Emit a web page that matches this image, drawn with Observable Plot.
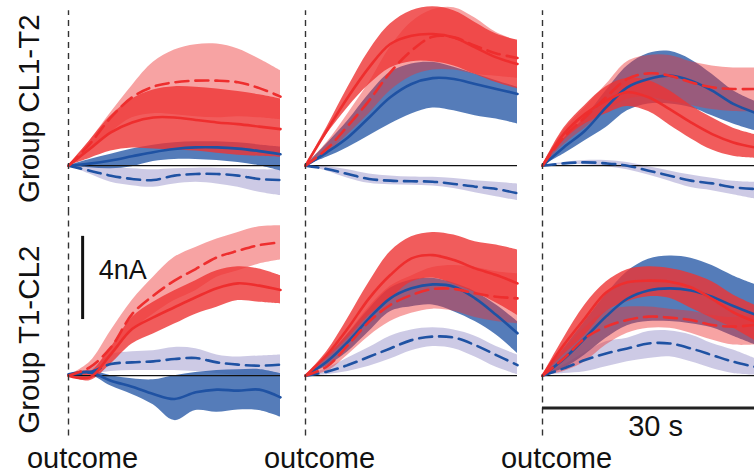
<!DOCTYPE html>
<html><head><meta charset="utf-8">
<script src="https://cdn.jsdelivr.net/npm/d3@7"></script>
<script src="https://cdn.jsdelivr.net/npm/@observablehq/plot@0.6"></script>
<style>html,body{margin:0;padding:0;background:#fff;overflow:hidden}#chart{width:754px;height:474px}</style>
</head><body><div id="chart"></div>
<script>
// time after outcome (s)
const time = [0, 3, 6, 9, 12, 15, 18, 21, 24, 27, 30];
const rows = ["Group CL1-T2", "Group T1-CL2"];
const cols = [1, 2, 3];
const seriesOrder = ["dashBlue", "solidBlue", "dashRed", "solidRed"];

// ---- Row 1 (Group CL1-T2), column 1 ----
const r1c1_dashRed_mid = [0, 1.04, 2.32, 3.29, 3.80, 4.01, 4.09, 4.09, 4.01, 3.73, 3.32];
const r1c1_dashRed_hi  = [0, 1.20, 2.56, 3.85, 4.97, 5.56, 5.82, 5.85, 5.61, 5.13, 4.57];
const r1c1_dashRed_lo  = [0, 0.70, 1.60, 2.30, 2.50, 2.45, 2.35, 2.30, 2.35, 2.30, 2.20];
const r1c1_solidRed_mid = [0, 0.80, 1.60, 2.08, 2.32, 2.32, 2.20, 2.08, 2.00, 1.88, 1.76];
const r1c1_solidRed_hi  = [0, 1.20, 2.40, 3.21, 3.64, 3.80, 3.77, 3.69, 3.57, 3.41, 3.21];
const r1c1_solidRed_lo  = [0, 0.35, 0.70, 0.85, 0.80, 0.75, 0.70, 0.60, 0.50, 0.45, 0.40];
const r1c1_solidBlue_mid = [0, 0.10, 0.25, 0.45, 0.65, 0.80, 0.88, 0.88, 0.82, 0.70, 0.55];
const r1c1_solidBlue_hi  = [0, 0.30, 0.55, 0.80, 0.98, 1.10, 1.15, 1.15, 1.10, 1.00, 0.90];
const r1c1_solidBlue_lo  = [0, -0.10, -0.15, -0.05, 0.20, 0.30, 0.30, 0.25, 0.15, 0.00, -0.25];
const r1c1_dashBlue_mid = [0, -0.24, -0.48, -0.64, -0.69, -0.48, -0.40, -0.40, -0.48, -0.64, -0.69];
const r1c1_dashBlue_hi  = [0, -0.05, -0.10, -0.15, -0.20, -0.15, -0.12, -0.12, -0.15, -0.20, -0.20];
const r1c1_dashBlue_lo  = [0, -0.40, -0.80, -0.96, -1.04, -0.88, -0.80, -0.88, -1.04, -1.28, -1.44];

// ---- Row 1, column 2 ----
const r1c2_dashRed_mid = [0, 0.80, 1.92, 3.13, 4.49, 5.53, 6.20, 6.17, 5.77, 5.40, 5.18];
const r1c2_dashRed_hi  = [0, 1.10, 2.50, 4.00, 5.70, 6.90, 7.50, 7.60, 7.10, 6.40, 6.00];
const r1c2_dashRed_lo  = [0, 0.60, 1.50, 2.50, 3.60, 4.30, 4.60, 4.60, 4.40, 4.30, 4.20];
const r1c2_solidRed_mid = [0, 1.68, 3.29, 4.73, 5.85, 6.25, 6.33, 6.17, 5.69, 5.21, 4.89];
const r1c2_solidRed_hi  = [0, 1.84, 3.77, 5.53, 6.81, 7.45, 7.64, 7.45, 6.89, 6.33, 6.04];
const r1c2_solidRed_lo  = [0, 1.50, 2.80, 3.90, 4.70, 5.00, 5.00, 4.80, 4.40, 4.00, 3.70];
const r1c2_solidBlue_mid = [0, 0.64, 1.36, 2.32, 3.29, 3.93, 4.21, 4.17, 3.93, 3.69, 3.45];
const r1c2_solidBlue_hi  = [0, 1.04, 2.16, 3.45, 4.49, 4.89, 4.97, 4.73, 4.41, 4.09, 3.77];
const r1c2_solidBlue_lo  = [0, 0.40, 0.88, 1.44, 2.00, 2.48, 2.77, 2.64, 2.40, 2.24, 2.00];
const r1c2_dashBlue_mid = [0, -0.16, -0.40, -0.64, -0.72, -0.75, -0.77, -0.88, -1.01, -1.12, -1.33];
const r1c2_dashBlue_hi  = [0, -0.05, -0.20, -0.40, -0.50, -0.55, -0.56, -0.62, -0.72, -0.80, -0.88];
const r1c2_dashBlue_lo  = [0, -0.25, -0.60, -0.85, -0.92, -0.94, -0.98, -1.10, -1.30, -1.50, -1.68];

// ---- Row 1, column 3 ----
const r1c3_dashRed_mid = [0, 1.36, 2.32, 3.29, 4.17, 4.44, 4.33, 4.01, 3.77, 3.69, 3.69];
const r1c3_dashRed_hi  = [0, 1.70, 2.80, 3.90, 5.00, 5.30, 5.30, 5.00, 4.80, 4.70, 4.70];
const r1c3_dashRed_lo  = [0, 1.00, 1.80, 2.60, 3.20, 3.30, 3.10, 2.90, 2.70, 2.60, 2.60];
const r1c3_solidRed_mid = [0, 1.52, 2.48, 3.13, 3.53, 3.29, 2.72, 2.08, 1.52, 1.12, 0.88];
const r1c3_solidRed_hi  = [0, 1.80, 2.90, 3.80, 4.20, 4.10, 3.60, 2.90, 2.30, 1.80, 1.50];
const r1c3_solidRed_lo  = [0, 1.20, 2.00, 2.50, 2.85, 2.60, 1.95, 1.30, 0.75, 0.45, 0.35];
const r1c3_solidBlue_mid = [0, 0.88, 1.68, 2.80, 3.77, 4.17, 4.33, 4.09, 3.61, 2.97, 2.56];
const r1c3_solidBlue_hi  = [0, 1.30, 2.30, 3.60, 4.80, 5.40, 5.50, 5.10, 4.40, 3.60, 3.10];
const r1c3_solidBlue_lo  = [0, 0.56, 1.20, 1.84, 2.64, 2.97, 2.97, 2.80, 2.40, 2.00, 1.68];
const r1c3_dashBlue_mid = [0, 0.11, 0.16, 0.11, 0.00, -0.24, -0.48, -0.72, -0.85, -1.04, -1.12];
const r1c3_dashBlue_hi  = [0, 0.15, 0.25, 0.25, 0.15, -0.05, -0.25, -0.45, -0.60, -0.75, -0.80];
const r1c3_dashBlue_lo  = [0, 0.05, 0.05, -0.05, -0.20, -0.45, -0.75, -1.05, -1.20, -1.40, -1.60];

// ---- Row 2 (Group T1-CL2), column 1 ----
const r2c1_dashRed_mid = [0, 0.40, 1.36, 2.96, 3.85, 4.57, 5.13, 5.69, 6.01, 6.28, 6.41];
const r2c1_dashRed_hi  = [0, 0.64, 2.16, 3.61, 4.73, 5.69, 6.17, 6.57, 6.89, 7.16, 7.21];
const r2c1_dashRed_lo  = [0, 0.08, 0.88, 2.16, 2.96, 3.61, 4.09, 4.73, 5.05, 5.37, 5.56];
const r2c1_solidRed_mid = [0, -0.08, 1.04, 2.24, 2.80, 3.29, 3.77, 4.21, 4.44, 4.33, 4.12];
const r2c1_solidRed_hi  = [0, 0.16, 1.36, 2.80, 3.53, 4.09, 4.57, 5.05, 5.24, 5.13, 4.81];
const r2c1_solidRed_lo  = [0, -0.24, 0.56, 1.52, 2.00, 2.48, 2.96, 3.29, 3.61, 3.53, 3.45];
const r2c1_solidBlue_mid = [0.05, 0.16, -0.24, -0.53, -0.88, -1.12, -0.80, -0.67, -0.72, -0.67, -1.04];
const r2c1_solidBlue_hi  = [0.10, 0.25, 0.00, -0.15, -0.20, 0.00, 0.15, 0.25, 0.28, 0.30, 0.10];
const r2c1_solidBlue_lo  = [0, 0.05, -0.50, -0.90, -1.40, -2.16, -1.68, -1.76, -1.65, -1.68, -2.00];
const r2c1_dashBlue_mid = [0.05, 0.16, 0.56, 0.64, 0.69, 0.80, 0.85, 0.64, 0.53, 0.48, 0.53];
const r2c1_dashBlue_hi  = [0.10, 0.30, 1.00, 1.15, 1.20, 1.36, 1.30, 1.00, 0.90, 0.95, 1.00];
const r2c1_dashBlue_lo  = [0, 0.05, 0.20, 0.25, 0.25, 0.25, 0.20, 0.10, 0.02, 0.02, 0.02];

// ---- Row 2, column 2 ----
const r2c2_dashRed_mid = [0, 0.43, 1.47, 2.60, 3.40, 3.88, 4.17, 4.17, 3.96, 3.80, 3.72];
const r2c2_dashRed_hi  = [0, 0.80, 2.00, 3.30, 4.30, 4.80, 5.20, 5.30, 5.20, 5.00, 4.90];
const r2c2_dashRed_lo  = [0, 0.20, 1.00, 1.90, 2.60, 3.00, 3.20, 3.10, 2.80, 2.60, 2.50];
const r2c2_solidRed_mid = [0, 0.99, 2.28, 3.72, 4.84, 5.64, 5.80, 5.56, 5.16, 4.84, 4.44];
const r2c2_solidRed_hi  = [0, 1.15, 2.76, 4.49, 5.96, 6.68, 6.89, 6.76, 6.44, 6.28, 6.04];
const r2c2_solidRed_lo  = [0, 0.80, 1.80, 2.90, 3.70, 4.50, 4.70, 4.40, 4.00, 3.50, 2.90];
const r2c2_solidBlue_mid = [0, 0.67, 1.63, 2.76, 3.72, 4.20, 4.39, 4.28, 3.72, 2.92, 2.04];
const r2c2_solidBlue_hi  = [0, 0.90, 2.00, 3.20, 4.20, 4.60, 4.68, 4.44, 4.04, 3.40, 2.60];
const r2c2_solidBlue_lo  = [0, 0.45, 1.15, 2.12, 3.08, 3.32, 3.40, 3.08, 2.60, 1.96, 1.07];
const r2c2_dashBlue_mid = [0, 0.19, 0.51, 0.91, 1.31, 1.71, 1.88, 1.83, 1.47, 0.99, 0.51];
const r2c2_dashBlue_hi  = [0, 0.35, 0.85, 1.35, 1.90, 2.20, 2.30, 2.20, 1.90, 1.40, 1.00];
const r2c2_dashBlue_lo  = [0, 0.05, 0.20, 0.45, 0.80, 1.20, 1.40, 1.30, 0.90, 0.40, 0.05];

// ---- Row 2, column 3 ----
const r2c3_dashRed_mid = [0, 0.83, 1.80, 2.36, 2.68, 2.84, 2.79, 2.68, 2.44, 2.36, 2.44];
const r2c3_dashRed_hi  = [0, 1.20, 2.30, 3.10, 3.30, 3.30, 3.20, 3.10, 2.90, 2.80, 2.90];
const r2c3_dashRed_lo  = [0, 0.20, 0.67, 1.47, 2.04, 2.28, 2.28, 2.04, 1.71, 1.47, 1.47];
const r2c3_solidRed_mid = [0, 1.47, 2.76, 4.00, 4.49, 4.57, 4.52, 4.25, 3.69, 3.05, 2.60];
const r2c3_solidRed_hi  = [0, 1.80, 3.40, 4.50, 5.10, 5.24, 5.16, 4.92, 4.52, 3.88, 3.40];
const r2c3_solidRed_lo  = [0, 1.00, 1.95, 3.08, 3.56, 3.80, 3.72, 3.24, 2.76, 2.28, 1.70];
const r2c3_solidBlue_mid = [0, 0.80, 1.80, 2.85, 3.70, 4.10, 4.20, 4.10, 3.80, 3.35, 2.95];
const r2c3_solidBlue_hi  = [0, 1.30, 2.60, 3.90, 5.00, 5.60, 5.75, 5.65, 5.30, 4.80, 4.40];
const r2c3_solidBlue_lo  = [0, 0.35, 1.00, 1.80, 2.40, 2.60, 2.60, 2.50, 2.30, 1.90, 1.50];
const r2c3_dashBlue_mid = [0, 0.35, 0.75, 1.07, 1.31, 1.55, 1.55, 1.31, 0.99, 0.67, 0.43];
const r2c3_dashBlue_hi  = [0, 0.50, 1.10, 1.63, 1.80, 2.12, 2.15, 1.96, 1.55, 1.23, 0.83];
const r2c3_dashBlue_lo  = [0, 0.10, 0.19, 0.43, 0.67, 0.83, 0.91, 0.67, 0.35, 0.11, 0.03];

// ---- assemble long table ----
const panelArrays = {
  r1c1: {row: rows[0], col: 1}, r1c2: {row: rows[0], col: 2}, r1c3: {row: rows[0], col: 3},
  r2c1: {row: rows[1], col: 1}, r2c2: {row: rows[1], col: 2}, r2c3: {row: rows[1], col: 3}
};
const src = {
  r1c1_dashRed: [r1c1_dashRed_lo, r1c1_dashRed_mid, r1c1_dashRed_hi],
  r1c1_solidRed: [r1c1_solidRed_lo, r1c1_solidRed_mid, r1c1_solidRed_hi],
  r1c1_solidBlue: [r1c1_solidBlue_lo, r1c1_solidBlue_mid, r1c1_solidBlue_hi],
  r1c1_dashBlue: [r1c1_dashBlue_lo, r1c1_dashBlue_mid, r1c1_dashBlue_hi],
  r1c2_dashRed: [r1c2_dashRed_lo, r1c2_dashRed_mid, r1c2_dashRed_hi],
  r1c2_solidRed: [r1c2_solidRed_lo, r1c2_solidRed_mid, r1c2_solidRed_hi],
  r1c2_solidBlue: [r1c2_solidBlue_lo, r1c2_solidBlue_mid, r1c2_solidBlue_hi],
  r1c2_dashBlue: [r1c2_dashBlue_lo, r1c2_dashBlue_mid, r1c2_dashBlue_hi],
  r1c3_dashRed: [r1c3_dashRed_lo, r1c3_dashRed_mid, r1c3_dashRed_hi],
  r1c3_solidRed: [r1c3_solidRed_lo, r1c3_solidRed_mid, r1c3_solidRed_hi],
  r1c3_solidBlue: [r1c3_solidBlue_lo, r1c3_solidBlue_mid, r1c3_solidBlue_hi],
  r1c3_dashBlue: [r1c3_dashBlue_lo, r1c3_dashBlue_mid, r1c3_dashBlue_hi],
  r2c1_dashRed: [r2c1_dashRed_lo, r2c1_dashRed_mid, r2c1_dashRed_hi],
  r2c1_solidRed: [r2c1_solidRed_lo, r2c1_solidRed_mid, r2c1_solidRed_hi],
  r2c1_solidBlue: [r2c1_solidBlue_lo, r2c1_solidBlue_mid, r2c1_solidBlue_hi],
  r2c1_dashBlue: [r2c1_dashBlue_lo, r2c1_dashBlue_mid, r2c1_dashBlue_hi],
  r2c2_dashRed: [r2c2_dashRed_lo, r2c2_dashRed_mid, r2c2_dashRed_hi],
  r2c2_solidRed: [r2c2_solidRed_lo, r2c2_solidRed_mid, r2c2_solidRed_hi],
  r2c2_solidBlue: [r2c2_solidBlue_lo, r2c2_solidBlue_mid, r2c2_solidBlue_hi],
  r2c2_dashBlue: [r2c2_dashBlue_lo, r2c2_dashBlue_mid, r2c2_dashBlue_hi],
  r2c3_dashRed: [r2c3_dashRed_lo, r2c3_dashRed_mid, r2c3_dashRed_hi],
  r2c3_solidRed: [r2c3_solidRed_lo, r2c3_solidRed_mid, r2c3_solidRed_hi],
  r2c3_solidBlue: [r2c3_solidBlue_lo, r2c3_solidBlue_mid, r2c3_solidBlue_hi],
  r2c3_dashBlue: [r2c3_dashBlue_lo, r2c3_dashBlue_mid, r2c3_dashBlue_hi]
};
const table = [];
for (const key of Object.keys(src)) {
  const [p, series] = key.split("_");
  const [lo, mid, hi] = src[key];
  time.forEach((t, i) => table.push({row: panelArrays[p].row, col: panelArrays[p].col, series, t, lo: lo[i], mid: mid[i], hi: hi[i]}));
}

// annotations
const outcomeRules = [{row: rows[0], t: 0, y1: -2.3, y2: 7.45}, {row: rows[1], t: 0, y1: -2.9, y2: 7.8}];
const rowLabels = [{row: rows[0], col: 1, t: 0, y: 2.74}, {row: rows[1], col: 1, t: 0, y: 1.73}];
const ampBar = [{row: rows[1], col: 1, t: 2, y1: 2.7, y2: 6.7, label: "4nA"}];
const timeBar = [{row: rows[1], col: 3, t1: 0, t2: 30, y: -1.55, label: "30 s"}];
const outcomeLabels = [{row: rows[1], t: 0, y: -3.98, label: "outcome"}];

const bandStyle = {
  dashBlue: {fill: "#9b95cc", fillOpacity: 0.5},
  solidBlue: {fill: "#2b5ba8", fillOpacity: 0.8},
  dashRed: {fill: "#ee3333", fillOpacity: 0.45},
  solidRed: {fill: "#ee3333", fillOpacity: 0.8}
};
const lineStyle = {
  dashBlue: {stroke: "#1f52a3", strokeDasharray: "13,7"},
  solidBlue: {stroke: "#1f52a3"},
  dashRed: {stroke: "#ee2e2e", strokeDasharray: "13,7"},
  solidRed: {stroke: "#ee2e2e"}
};
const curve = "catmull-rom";

const marks = [];
for (const s of seriesOrder) {
  marks.push(Plot.areaY(table.filter(d => d.series === s), {x: "t", y1: "lo", y2: "hi", fx: "col", fy: "row", curve, ...bandStyle[s]}));
}
marks.push(Plot.ruleY([0], {stroke: "#111", strokeWidth: 1.3}));
for (const s of seriesOrder) {
  marks.push(Plot.lineY(table.filter(d => d.series === s), {x: "t", y: "mid", fx: "col", fy: "row", curve, strokeWidth: 2.6, ...lineStyle[s]}));
}
marks.push(
  Plot.ruleX(outcomeRules, {x: "t", y1: "y1", y2: "y2", fy: "row", stroke: "#333", strokeWidth: 1.4, strokeDasharray: "6,5"}),
  Plot.ruleX(ampBar, {x: "t", y1: "y1", y2: "y2", fx: "col", fy: "row", stroke: "#111", strokeWidth: 3}),
  Plot.text(ampBar, {x: "t", y: 5.07, dx: 16, text: "label", fx: "col", fy: "row", textAnchor: "start", fontSize: 27, fill: "#111"}),
  Plot.ruleY(timeBar, {y: "y", x1: "t1", x2: "t2", fx: "col", fy: "row", stroke: "#222", strokeWidth: 3}),
  Plot.text(timeBar, {x: 16, y: -2.44, text: "label", fx: "col", fy: "row", fontSize: 29, fill: "#111"}),
  Plot.text(outcomeLabels, {x: "t", y: "y", dx: 14, text: "label", fy: "row", fontSize: 29, fill: "#111"}),
  Plot.text(rowLabels, {x: "t", y: "y", dx: -39.4, text: "row", fx: "col", fy: "row", rotate: -90, fontSize: 29.5, fill: "#111"})
);

const chart = Plot.plot({
  width: 754, height: 474,
  marginLeft: 68, marginRight: 0, marginTop: 3, marginBottom: 51,
  x: {domain: [0, 30], axis: null},
  y: {domain: [-2.3, 7.8], axis: null},
  fx: {domain: cols, paddingInner: 0.1055, paddingOuter: 0, round: false, axis: null},
  fy: {domain: rows, paddingInner: 0, paddingOuter: 0, round: false, axis: null},
  style: {fontFamily: "'Liberation Sans', Arial, sans-serif", background: "#fff", overflow: "visible"},
  marks
});
document.getElementById("chart").appendChild(chart);
</script>
</body></html>
